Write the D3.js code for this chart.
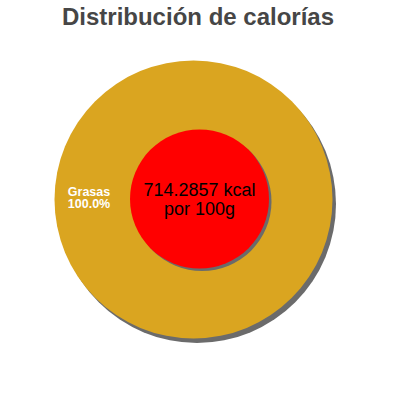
<!DOCTYPE html>
<html>
<head>
<meta charset="utf-8">
<script src="https://cdn.jsdelivr.net/npm/d3@7"></script>
<style>
  html, body { margin: 0; padding: 0; background: #fff; }
  svg { display: block; }
</style>
</head>
<body>
<svg id="chart" width="400" height="400"></svg>
<script>
const title = "Distribución de calorías";
const categories = ["Grasas"];
const values = [100];
const colors = ["#DAA520"];
const totalKcal = "714.2857";
const centerLines = [totalKcal + " kcal", "por 100g"];

const svg = d3.select("#chart");

svg.append("text")
  .attr("x", 198).attr("y", 25)
  .attr("text-anchor", "middle")
  .attr("font-family", "Liberation Sans, Arial, sans-serif")
  .attr("font-weight", "bold")
  .attr("font-size", 24)
  .attr("fill", "#464646")
  .text(title);

const cx = 193.5, cy = 199.5, R = 139;
const pie = d3.pie().sort(null).value(d => d);
const arcs = pie(values);
const arc = d3.arc().innerRadius(0).outerRadius(R);

const g = svg.append("g").attr("transform", `translate(${cx},${cy})`);

// shadow
g.append("g").attr("transform", "translate(3.5,4.5)")
  .selectAll("path").data(arcs).join("path")
  .attr("d", arc).attr("fill", "#6b6b6b");

g.selectAll("path.slice").data(arcs).join("path")
  .attr("class", "slice")
  .attr("d", arc)
  .attr("fill", (d, i) => colors[i]);

// labels (single 100% slice: label sits on left side of the ring)
arcs.forEach((d, i) => {
  const x = 89 - cx, y = 196 - cy;
  const t = g.append("text")
    .attr("text-anchor", "middle")
    .attr("font-family", "Liberation Sans, Arial, sans-serif")
    .attr("font-weight", "bold")
    .attr("font-size", 12.5)
    .attr("fill", "#ffffff");
  t.append("tspan").attr("x", x).attr("y", y).text(categories[i]);
  t.append("tspan").attr("x", x).attr("y", y + 12)
    .text(d3.format(".1f")((d.endAngle - d.startAngle) / (2 * Math.PI) * 100) + "%");
});

// center circle
const icx = 199.5, icy = 199, r = 69.5;
const inner = svg.append("g").attr("transform", `translate(${icx},${icy})`);
const innerArc = d3.arc().innerRadius(0).outerRadius(r).startAngle(0).endAngle(2 * Math.PI);
inner.append("path").attr("d", innerArc()).attr("fill", "#6b6b6b")
  .attr("transform", "translate(2.5,2.5)");
inner.append("path").attr("d", innerArc()).attr("fill", "#ff0000");

const ct = inner.append("text")
  .attr("text-anchor", "middle")
  .attr("font-family", "Liberation Sans, Arial, sans-serif")
  .attr("font-size", 18)
  .attr("fill", "#000");
centerLines.forEach((s, i) => {
  ct.append("tspan").attr("x", 0).attr("y", 195.5 - icy + i * 19).text(s);
});
</script>
</body>
</html>
